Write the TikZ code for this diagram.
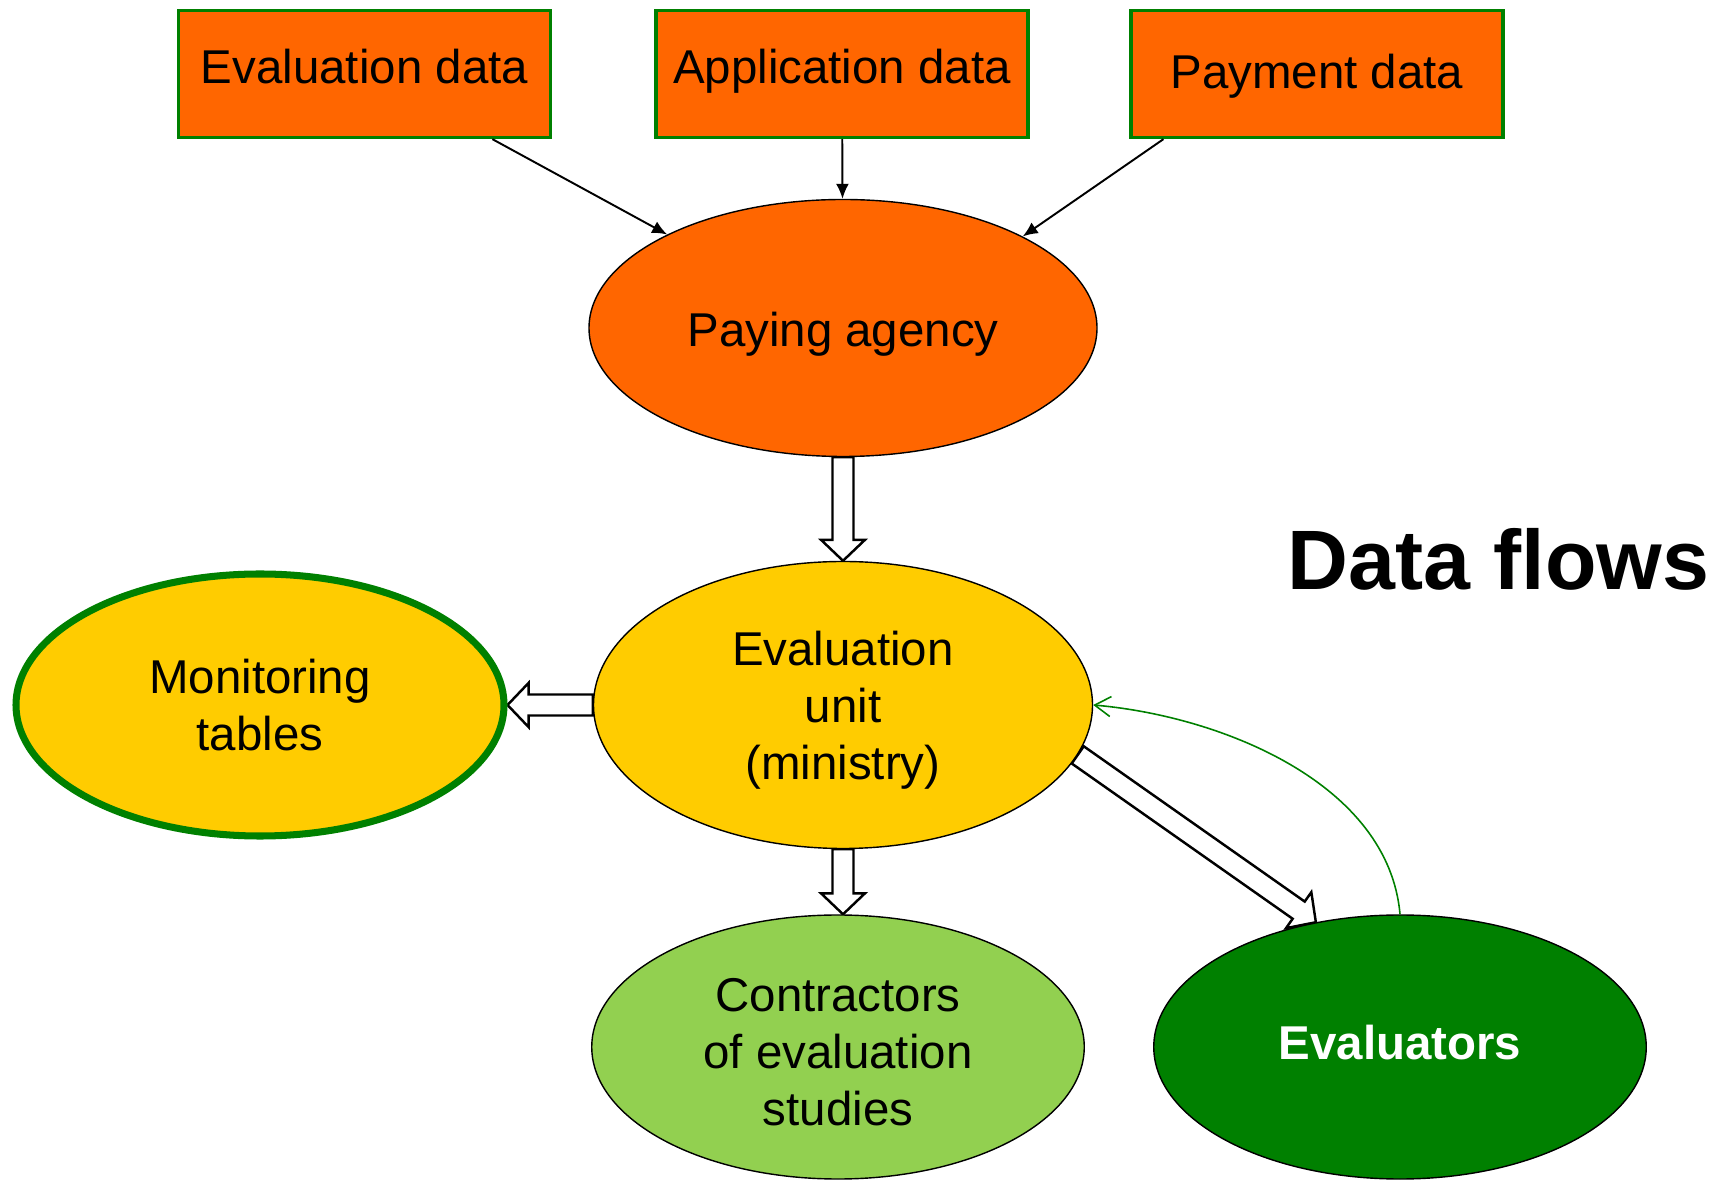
\documentclass[tikz,border=0pt]{standalone}
\usepackage{fontspec}
\setmainfont{Liberation Sans}
\usetikzlibrary{shapes.geometric,calc,backgrounds,arrows.meta}

\definecolor{dforange}{HTML}{FF6600}
\definecolor{dfyellow}{HTML}{FFCC00}
\definecolor{dflime}{HTML}{92D050}
\definecolor{dfgreen}{HTML}{008000}

\newcommand{\dfsize}{\fontsize{27}{32.5}\selectfont}

\tikzset{
  databox/.style={rectangle, draw=dfgreen, line width=1.9pt, fill=dforange, minimum width=7.44cm, minimum height=2.54cm, inner sep=0pt, text height=0.69cm, text depth=0.3cm, font=\dfsize},
  blob/.style={ellipse, draw=black, line width=0.8pt, inner sep=0pt, align=center, font=\dfsize},
  feed/.style={line width=1.1pt, -{Latex[length=3mm,width=2.6mm]}},
  hollow/.style={draw=black, line width=1.4pt, fill=white, line join=miter},
  backflow/.style={draw=dfgreen, line width=0.9pt, -{Straight Barb[length=3.2mm,width=4mm]}},
}

\newcommand{\hollowarrow}[2]{%
  \coordinate (hbase) at ($(#2)!0.42cm!(#1)$);
  \draw[hollow] ($(#1)!0.21cm!90:(#2)$) -- ($(hbase)!0.21cm!-90:(#1)$) -- ($(hbase)!0.44cm!-90:(#1)$) -- (#2) -- ($(hbase)!0.44cm!90:(#1)$) -- ($(hbase)!0.21cm!90:(#1)$) -- ($(#1)!0.21cm!-90:(#2)$) -- cycle;
}

\begin{document}
\begin{tikzpicture}
  \useasboundingbox (0,0) rectangle (34.32,23.58);
  \node[databox] (evaldata) at (7.29,22.10) {Evaluation data};
  \node[databox] (appdata) at (16.84,22.10) {Application data};
  \node[databox, text depth=0.12cm] (paydata) at (26.34,22.10) {Payment data};
  \node[blob, fill=dforange, text height=0.95cm, text depth=0.2cm, minimum width=10.16cm, minimum height=5.14cm] (paying) at (16.86,17.02) {Paying agency};
  \node[blob, fill=dfyellow, text depth=-0.15cm, minimum width=9.98cm, minimum height=5.74cm] (evalunit) at (16.86,9.48) {Evaluation\\unit\\(ministry)};
  \node[blob, fill=dfyellow, draw=dfgreen, line width=4pt, minimum width=9.76cm, minimum height=5.24cm] (monitoring) at (5.2,9.48) {Monitoring\\tables};
  \node[blob, fill=dflime, minimum width=9.85cm, minimum height=5.28cm] (contractors) at (16.76,2.64) {\rule{0pt}{0.86cm}Contractors\\of evaluation\\studies};
  \node[blob, fill=dfgreen, text=white, font=\dfsize\bfseries, text height=0.69cm, text depth=0.18cm, minimum width=9.85cm, minimum height=5.28cm] (evaluators) at (28.0,2.64) {Evaluators};
  \node[anchor=base west, inner sep=0pt, font=\fontsize{48}{58}\selectfont\bfseries] (title) at (25.74,11.78) {Data flows};
  \draw[feed] (evaldata.-27) -- (paying.152.7);
  \draw[feed] (appdata) -- (paying);
  \draw[feed] (paydata.203.5) -- (paying.27.1);
  \coordinate (contrin) at (evalunit.south |- contractors.north);
  \begin{pgfonlayer}{background}
    \hollowarrow{paying.south}{evalunit.north}
    \hollowarrow{evalunit.west}{monitoring.east}
    \hollowarrow{evalunit.south}{contrin}
    \hollowarrow{evalunit.-12.7}{evaluators.124}
  \end{pgfonlayer}
  \draw[backflow] (evaluators.north) to[out=95, in=-5, looseness=0.9] (evalunit.east);
\end{tikzpicture}
\end{document}
